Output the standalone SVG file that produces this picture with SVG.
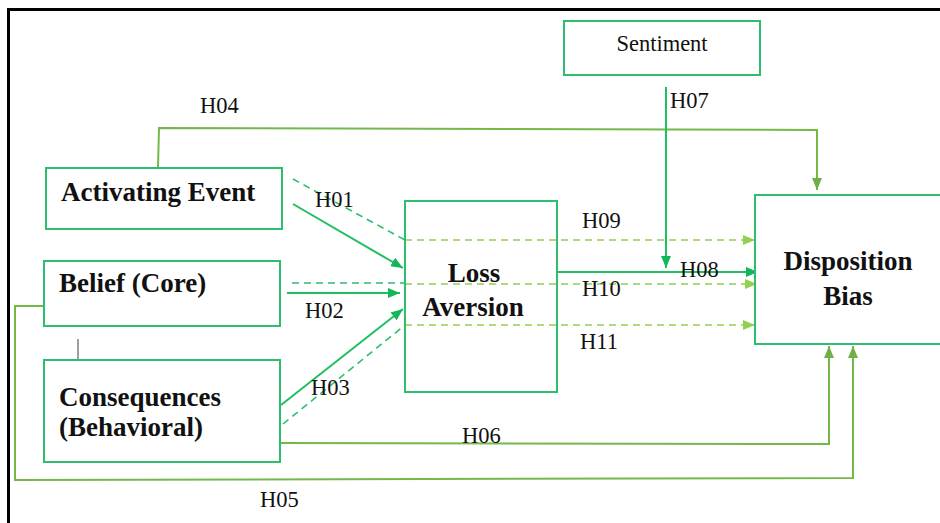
<svg xmlns="http://www.w3.org/2000/svg" width="940" height="523" viewBox="0 0 940 523">
<style>
.box{fill:#fff;stroke:#2ebf6e;stroke-width:2}
.bt{font-family:"Liberation Serif","Times New Roman",serif;font-weight:bold;font-size:27px;fill:#111}
.lt{font-family:"Liberation Serif","Times New Roman",serif;font-size:22.5px;fill:#111}
.g{fill:none;stroke:#1fbf60;stroke-width:2}
.o{fill:none;stroke:#74b84c;stroke-width:2}
.d{fill:none;stroke:#92d050;stroke-width:1.6;stroke-dasharray:7 5}
.dd{fill:none;stroke:#2ebf6e;stroke-width:1.6;stroke-dasharray:7 5}
</style>
<defs>
<marker id="ag" viewBox="0 0 12 10" refX="12" refY="5" markerWidth="12" markerHeight="10" markerUnits="userSpaceOnUse" orient="auto"><path d="M0,0 L12,5 L0,10 z" fill="#10b85a"/></marker>
<marker id="ao" viewBox="0 0 12 10" refX="12" refY="5" markerWidth="12" markerHeight="10" markerUnits="userSpaceOnUse" orient="auto"><path d="M0,0 L12,5 L0,10 z" fill="#6db048"/></marker>
<marker id="al" viewBox="0 0 12 10" refX="12" refY="5" markerWidth="12" markerHeight="10" markerUnits="userSpaceOnUse" orient="auto"><path d="M0,0 L12,5 L0,10 z" fill="#92d050"/></marker>
</defs>
<rect x="0" y="0" width="940" height="523" fill="#fff"/>
<rect x="8.5" y="9.5" width="950" height="540" fill="none" stroke="#000" stroke-width="3"/>

<g id="connectors">
  <!-- H04 -->
  <polyline class="o" points="158,167 159,128 817,130 817,190" marker-end="url(#ao)"/>
  <!-- H07 -->
  <line class="g" x1="666" y1="87" x2="666" y2="268" marker-end="url(#ag)"/>
  <!-- H01 -->
  <line class="g" x1="293" y1="204" x2="403" y2="268" marker-end="url(#ag)"/>
  <!-- H09 dashed -->
  <line class="dd" x1="293" y1="179" x2="405" y2="240"/>
  <line class="d" x1="405" y1="240" x2="755" y2="240" marker-end="url(#al)"/>
  <!-- H02 -->
  <line class="g" x1="287" y1="293" x2="400" y2="293" marker-end="url(#ag)"/>
  <!-- H10 dashed -->
  <line class="dd" x1="292" y1="283" x2="405" y2="283"/>
  <line class="d" x1="405" y1="284" x2="757" y2="284" marker-end="url(#al)"/>
  <!-- H03 -->
  <line class="g" x1="281" y1="405" x2="403" y2="309" marker-end="url(#ag)"/>
  <!-- H11 dashed -->
  <line class="dd" x1="283" y1="424" x2="405" y2="325"/>
  <line class="d" x1="405" y1="325" x2="755" y2="325" marker-end="url(#al)"/>
  <!-- H08 -->
  <line class="g" x1="557" y1="272" x2="758" y2="272" marker-end="url(#ag)"/>
  <!-- H06 -->
  <polyline class="o" points="281,443 829,444 829,346" marker-end="url(#ao)"/>
  <!-- H05 -->
  <polyline class="o" points="44,306 15,306 15,480 853,478 853,346" marker-end="url(#ao)"/>
  <!-- small mark -->
  <line x1="78" y1="339" x2="78" y2="365" stroke="#4a3a4a" stroke-width="1"/>
</g>

<g id="sentiment">
  <rect class="box" x="564" y="21" width="196" height="54"/>
  <text class="lt" x="662" y="51" text-anchor="middle">Sentiment</text>
</g>
<g id="activating-event">
  <rect class="box" x="46" y="168" width="236" height="61"/>
  <text class="bt" x="61" y="201">Activating Event</text>
</g>
<g id="belief">
  <rect class="box" x="44" y="261" width="236" height="65"/>
  <text class="bt" x="59" y="292">Belief (Core)</text>
</g>
<g id="consequences">
  <rect class="box" x="44" y="360" width="236" height="102"/>
  <text class="bt" x="59" y="406">Consequences</text>
  <text class="bt" x="59" y="436">(Behavioral)</text>
</g>
<g id="loss-aversion">
  <rect class="box" x="405" y="201" width="152" height="191" style="fill:none"/>
  <text class="bt" x="474" y="282" text-anchor="middle">Loss</text>
  <text class="bt" x="473" y="316" text-anchor="middle">Aversion</text>
</g>
<g id="disposition-bias">
  <rect class="box" x="755" y="195" width="200" height="149"/>
  <text class="bt" x="848" y="270" text-anchor="middle">Disposition</text>
  <text class="bt" x="848" y="305" text-anchor="middle">Bias</text>
</g>

<g id="labels">
  <text class="lt" x="200" y="113">H04</text>
  <text class="lt" x="670" y="108">H07</text>
  <text class="lt" x="315" y="207">H01</text>
  <text class="lt" x="582" y="228">H09</text>
  <text class="lt" x="680" y="277">H08</text>
  <text class="lt" x="582" y="296">H10</text>
  <text class="lt" x="305" y="318">H02</text>
  <text class="lt" x="580" y="349">H11</text>
  <text class="lt" x="311" y="395">H03</text>
  <text class="lt" x="462" y="443">H06</text>
  <text class="lt" x="260" y="507">H05</text>
</g>
</svg>
